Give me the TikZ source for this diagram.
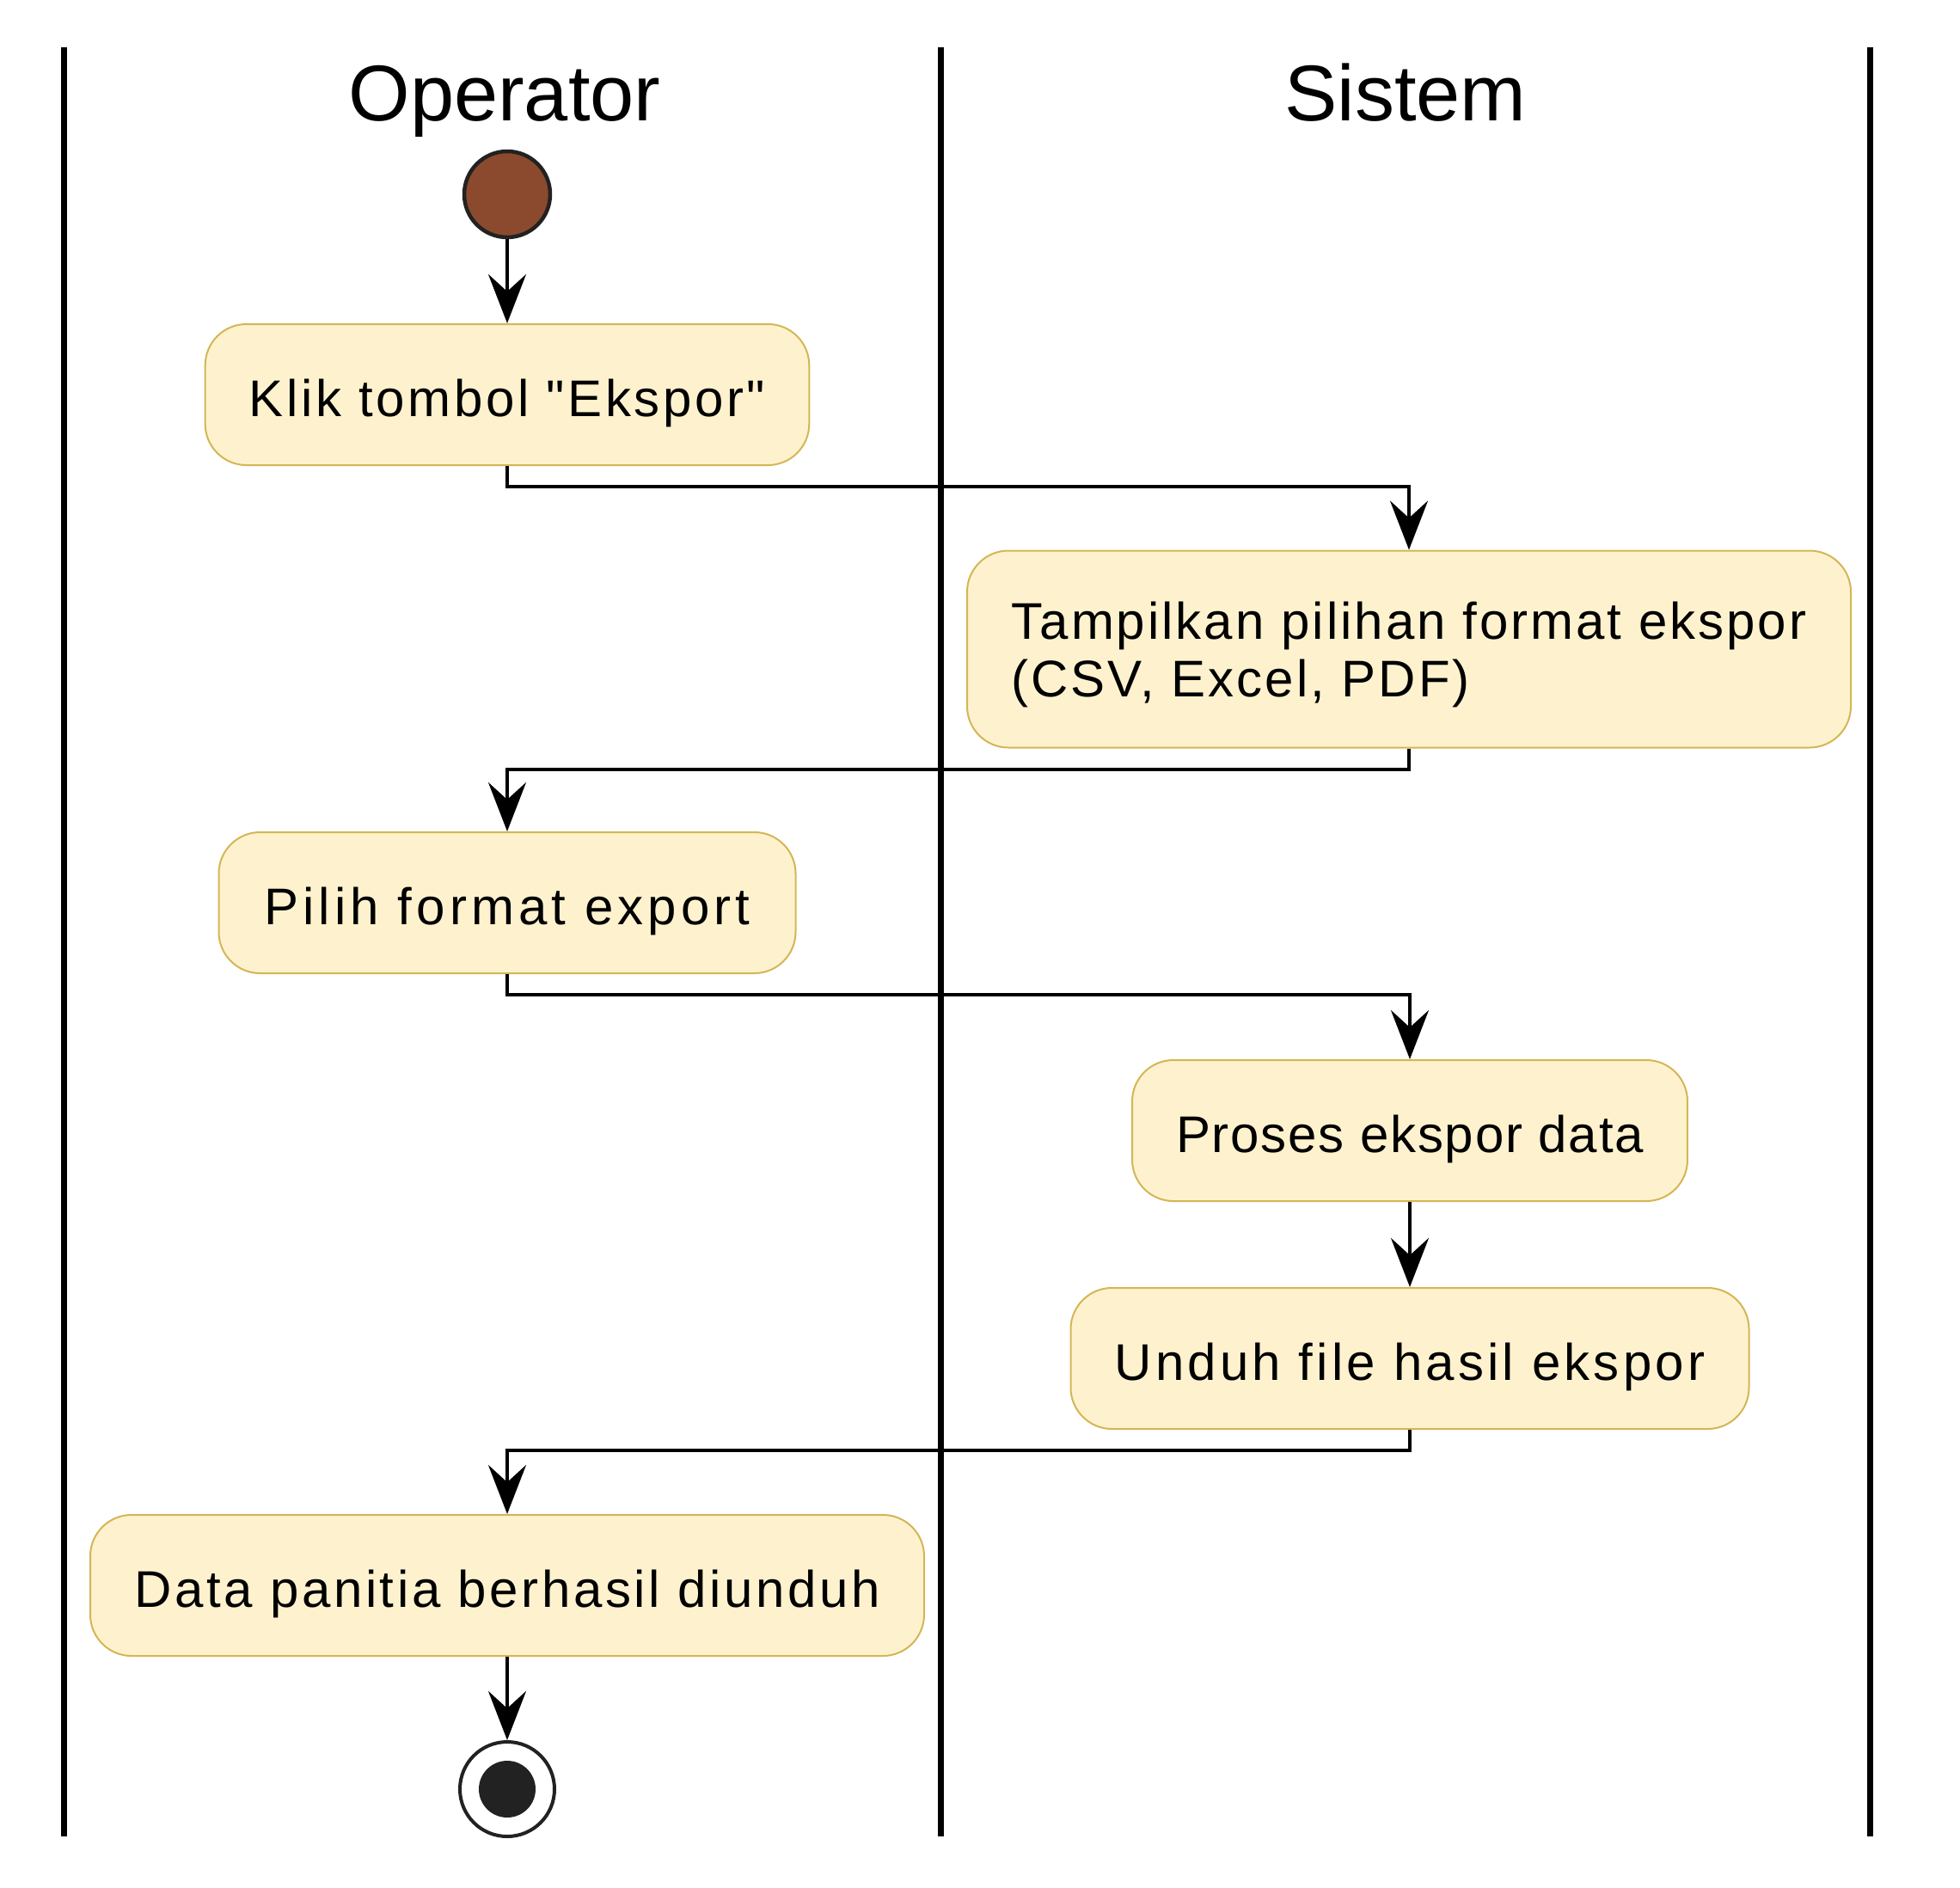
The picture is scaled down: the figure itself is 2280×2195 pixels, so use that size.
\documentclass[tikz,border=0pt]{standalone}
\usepackage{fontspec}
\setmainfont{Liberation Sans}[Ligatures=TeXOff]
\usetikzlibrary{arrows.meta,positioning}

\definecolor{actfill}{HTML}{FEF2CE}
\definecolor{actline}{HTML}{D4B655}
\definecolor{startfill}{HTML}{8B4A2E}
\definecolor{dotblack}{HTML}{222222}

\newcommand\actfont[1]{\fontsize{60}{67}\selectfont\addfontfeature{LetterSpace=#1}}

\tikzset{
  act/.style={draw=actline, fill=actfill, line width=2pt, rounded corners=48pt,
    minimum height=164pt, inner xsep=51pt, text height=58pt, text depth=8pt,
    font=\actfont{6}},
  flow/.style={line width=4pt, -{Stealth[length=57pt,width=44pt,inset=20pt]}},
  lane/.style={line width=7pt},
  lanehead/.style={font=\fontsize{92}{110}\selectfont, anchor=base}
}

\begin{document}
\begin{tikzpicture}[x=1pt,y=-1pt]
  \useasboundingbox (0,0) rectangle (2280,2195);

  % Swimlanes
  \draw[lane] (74,55) -- (74,2136);
  \draw[lane] (1094,55) -- (1094,2136);
  \draw[lane] (2175,55) -- (2175,2136);
  \node[lanehead] (opHead) at (587,140) {Operator};
  \node[lanehead] (sysHead) at (1635,140) {Sistem};

  % Start
  \node[circle, draw=dotblack, fill=startfill, line width=4.5pt, minimum size=100pt, inner sep=0pt] (start) at (590,226) {};

  % Activities
  \node[act, minimum width=699pt] (klik) at (590,459) {Klik tombol "Ekspor"};
  \node[act, align=left, minimum height=229pt, minimum width=1028pt, text height=119pt, font=\actfont{5}] (tampil) at (1639,755) {Tampilkan pilihan format ekspor\\(CSV, Excel, PDF)};
  \node[act, minimum width=671pt, font=\actfont{8.5}] (pilih) at (590,1050) {Pilih format export};
  \node[act, minimum width=640pt, font=\actfont{3}] (proses) at (1640,1315) {Proses ekspor data};
  \node[act, minimum width=789pt, font=\actfont{7}] (unduh) at (1640,1580) {Unduh file hasil ekspor};
  \node[act, minimum width=970pt] (hasil) at (590,1844) {Data panitia berhasil diunduh};

  % End
  \node[circle, draw=dotblack, line width=4pt, minimum size=110pt, inner sep=0pt] (end) at (590,2081) {};
  \node[circle, fill=dotblack, minimum size=66pt, inner sep=0pt] (endDot) at (end) {};

  % Flow
  \draw[flow] (start) -- (klik);
  \draw[flow] (klik.south) -- ++(0,24) -| (tampil.north);
  \draw[flow] (tampil.south) -- ++(0,24) -| (pilih.north);
  \draw[flow] (pilih.south) -- ++(0,24) -| (proses.north);
  \draw[flow] (proses) -- (unduh);
  \draw[flow] (unduh.south) -- ++(0,24) -| (hasil.north);
  \draw[flow] (hasil) -- (end);
\end{tikzpicture}
\end{document}
